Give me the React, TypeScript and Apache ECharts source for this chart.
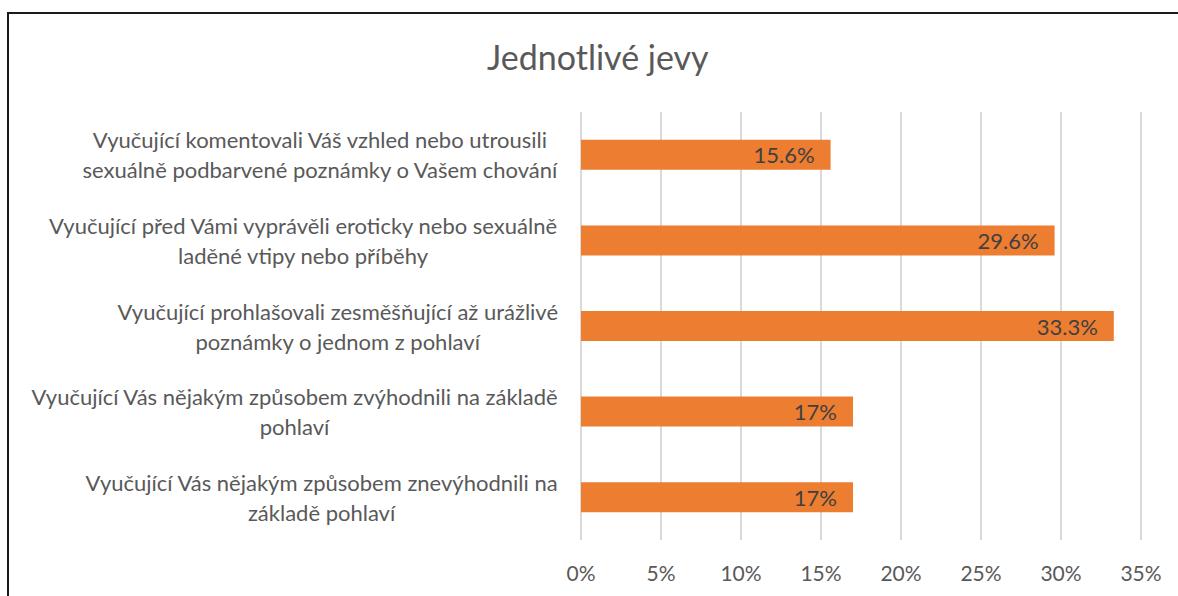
import React, { useEffect, useRef } from "react";
import * as echarts from "echarts";

const categories: string[][] = [
  ["Vyučující komentovali Váš vzhled nebo utrousili", "sexuálně podbarvené poznámky o Vašem chování"],
  ["Vyučující před Vámi vyprávěli eroticky nebo sexuálně", "laděné vtipy nebo příběhy"],
  ["Vyučující prohlašovali zesměšňující až urážlivé", "poznámky o jednom z pohlaví"],
  ["Vyučující Vás nějakým způsobem zvýhodnili na základě", "pohlaví"],
  ["Vyučující Vás nějakým způsobem znevýhodnili na", "základě pohlaví"],
];
const values: number[] = [15.6, 29.6, 33.3, 17, 17];
const valueLabels: string[] = ["15.6%", "29.6%", "33.3%", "17%", "17%"];
const title = "Jednotlivé jevy";

const FONT = "Lato, 'Liberation Sans', sans-serif";

export default function App() {
  const ref = useRef<HTMLDivElement>(null);
  useEffect(() => {
    if (!ref.current) return;
    const chart = echarts.init(ref.current, null, { renderer: "svg" });
    const catKeys = categories.map((_, i) => "c" + i);
    chart.setOption({
      animation: false,
      backgroundColor: "#ffffff",
      textStyle: { fontFamily: FONT },
      title: {
        text: title,
        left: 482,
        top: 34,
        textStyle: { fontSize: 34, fontWeight: "normal", color: "#595959", fontFamily: FONT },
      },
      graphic: [
        {
          type: "rect",
          shape: { x: 8, y: 13, width: 1300, height: 800 },
          style: { fill: "none", stroke: "#1a1a1a", lineWidth: 2 },
          silent: true,
        },
      ],
      grid: { left: 581, right: 37, top: 112, bottom: 56, containLabel: false },
      xAxis: {
        type: "value",
        min: 0,
        max: 35,
        interval: 5,
        axisLine: { show: false },
        axisTick: { show: false },
        axisLabel: {
          formatter: (v: number) => v + "%",
          fontSize: 21,
          color: "#595959",
          margin: 22,
          fontFamily: FONT,
        },
        splitLine: { show: true, lineStyle: { color: "#d9d9d9", width: 2 } },
      },
      yAxis: {
        type: "category",
        inverse: true,
        data: catKeys,
        axisLine: { show: false },
        axisTick: { show: false },
        axisLabel: {
          margin: 23,
          align: "right",
          formatter: (_v: string, idx: number) =>
            categories[idx].map((l) => "{c|" + l + "}").join("\n"),
          rich: {
            c: { align: "center", fontSize: 22, lineHeight: 30, color: "#595959", fontFamily: FONT },
          },
        },
      },
      series: [
        {
          type: "bar",
          data: values,
          barWidth: 30,
          itemStyle: { color: "#ED7D31" },
          label: {
            show: true,
            position: "insideRight",
            distance: 16,
            formatter: (p: any) => valueLabels[p.dataIndex],
            fontSize: 22,
            color: "#404040",
            fontFamily: FONT,
          },
        },
      ],
    });
    return () => chart.dispose();
  }, []);
  return (
    <div
      ref={ref}
      style={{ position: "absolute", left: 0, top: 0, width: 1178, height: 596 }}
    />
  );
}
